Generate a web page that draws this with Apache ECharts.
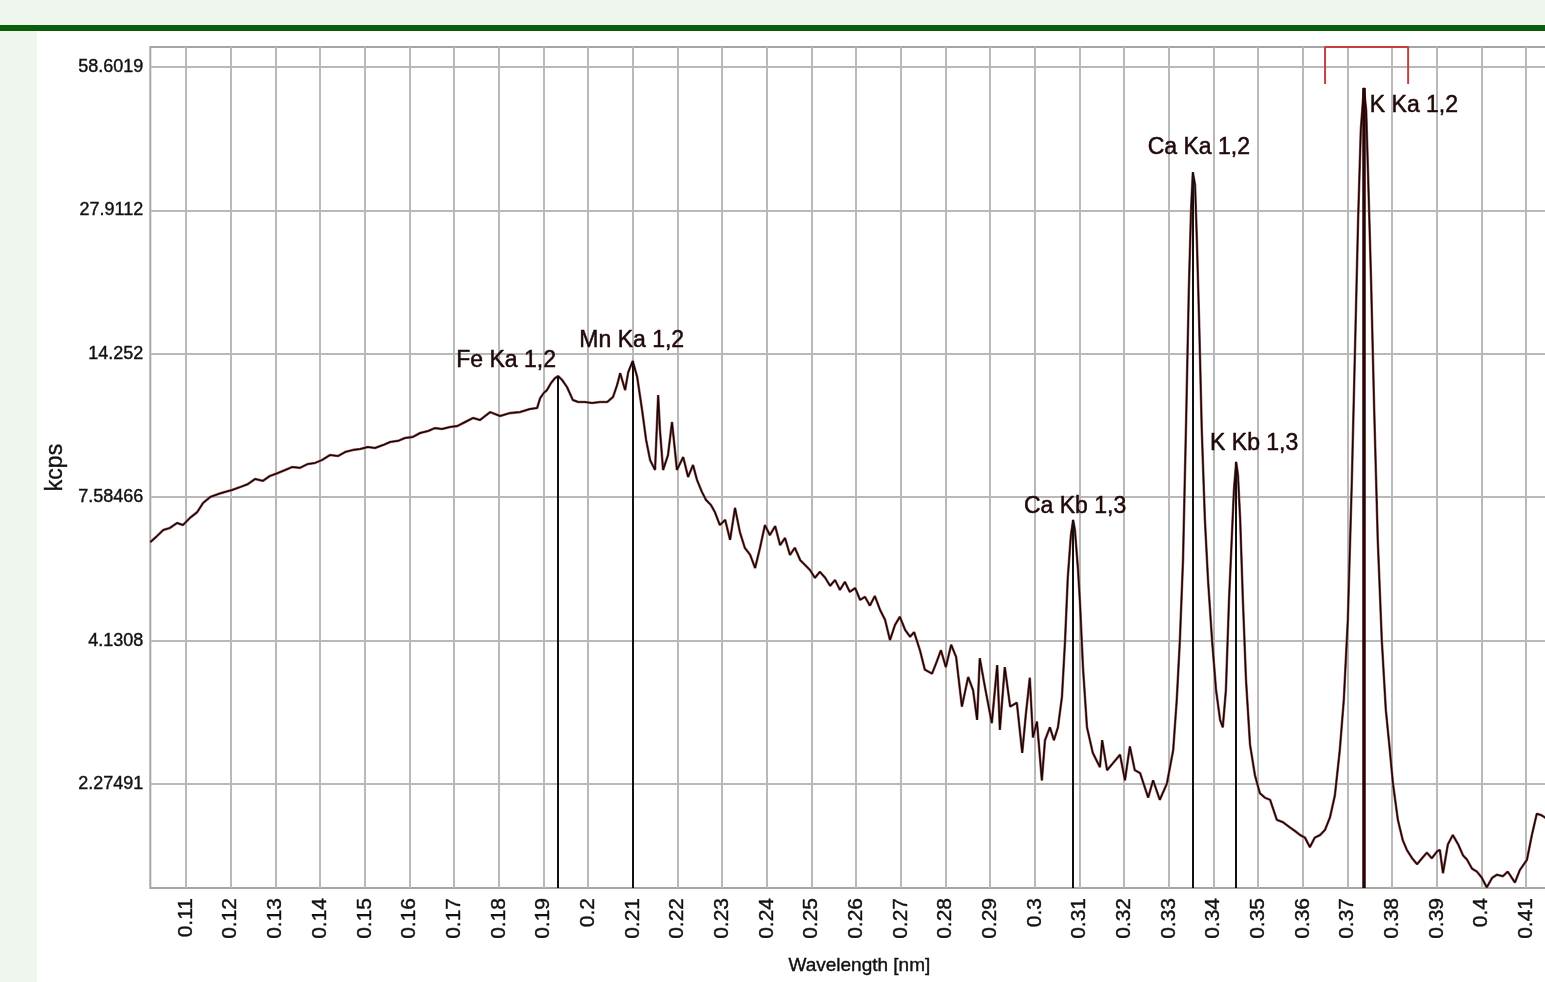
<!DOCTYPE html>
<html><head><meta charset="utf-8">
<script src="https://cdn.jsdelivr.net/npm/echarts@6/dist/echarts.min.js"></script>
<style>
html,body{margin:0;padding:0;width:1545px;height:982px;overflow:hidden;background:#eef6ee;}
#bar{position:absolute;left:0;top:25px;width:1545px;height:6px;background:#0b5c0b;}
#panel{position:absolute;left:37px;top:31px;width:1508px;height:951px;background:#fff;}
#chart{position:absolute;left:0;top:0;width:1560px;height:982px;}
</style></head><body>
<div id="bar"></div><div id="panel"></div><div id="chart"></div>
<script>
// ---- data ----
const xTickLabels = ['0.11','0.12','0.13','0.14','0.15','0.16','0.17','0.18','0.19','0.2','0.21','0.22','0.23','0.24','0.25','0.26','0.27','0.28','0.29','0.3','0.31','0.32','0.33','0.34','0.35','0.36','0.37','0.38','0.39','0.4','0.41'];
const yTickLabels = ['2.27491','4.1308','7.58466','14.252','27.9112','58.6019'];
const xRange = [0.102, 0.415];
const yRangeKcps = [1.476, 65.0];

const wavelength = [
0.1020,0.1033,0.1049,0.1064,0.1080,0.1093,0.1109,0.1125,0.1138,0.1154,0.1172,0.1187,0.1203,0.1221,0.1239,0.1255,0.1272,0.1288,0.1306,0.1322,
0.1337,0.1355,0.1373,0.1389,0.1404,0.1422,0.1440,0.1456,0.1474,0.1490,0.1507,0.1523,0.1541,0.1557,0.1575,0.1590,0.1608,0.1624,0.1642,0.1657,
0.1673,0.1691,0.1707,0.1725,0.1743,0.1758,0.1781,0.1803,0.1825,0.1848,0.1870,0.1886,0.1893,0.1901,0.1908,0.1917,0.1926,0.1933,0.1942,0.1953,
0.1966,0.1978,0.1993,0.2009,0.2027,0.2043,0.2056,0.2065,0.2072,0.2083,0.2090,0.2100,0.2110,0.2121,0.2130,0.2139,0.2150,0.2157,0.2161,0.2168,
0.2179,0.2188,0.2199,0.2213,0.2224,0.2235,0.2244,0.2255,0.2264,0.2275,0.2284,0.2295,0.2307,0.2318,0.2329,0.2340,0.2351,0.2363,0.2374,0.2385,
0.2396,0.2407,0.2419,0.2430,0.2441,0.2452,0.2463,0.2475,0.2486,0.2497,0.2508,0.2519,0.2531,0.2542,0.2553,0.2564,0.2575,0.2586,0.2598,0.2609,
0.2620,0.2631,0.2642,0.2654,0.2665,0.2676,0.2687,0.2698,0.2710,0.2721,0.2730,0.2743,0.2754,0.2770,0.2781,0.2790,0.2801,0.2813,0.2824,0.2837,
0.2851,0.2862,0.2871,0.2877,0.2889,0.2904,0.2916,0.2922,0.2933,0.2945,0.2960,0.2972,0.2980,0.2989,0.2996,0.3005,0.3016,0.3023,0.3034,0.3043,
0.3052,0.3061,0.3068,0.3074,0.3081,0.3086,0.3090,0.3097,0.3101,0.3108,0.3117,0.3130,0.3146,0.3151,0.3162,0.3175,0.3191,0.3202,0.3213,0.3224,
0.3236,0.3254,0.3265,0.3280,0.3296,0.3310,0.3318,0.3325,0.3332,0.3339,0.3345,0.3350,0.3354,0.3359,0.3363,0.3368,0.3374,0.3381,0.3388,0.3397,
0.3406,0.3415,0.3421,0.3428,0.3435,0.3442,0.3446,0.3451,0.3455,0.3460,0.3466,0.3473,0.3482,0.3493,0.3504,0.3515,0.3527,0.3542,0.3556,0.3571,
0.3583,0.3594,0.3605,0.3616,0.3627,0.3639,0.3650,0.3661,0.3672,0.3683,0.3692,0.3701,0.3710,0.3717,0.3724,0.3730,0.3737,0.3742,0.3746,0.3753,
0.3760,0.3768,0.3777,0.3786,0.3795,0.3802,0.3813,0.3824,0.3833,0.3845,0.3856,0.3867,0.3878,0.3889,0.3901,0.3907,0.3914,0.3925,0.3936,0.3948,
0.3959,0.3968,0.3979,0.3990,0.4001,0.4012,0.4024,0.4035,0.4048,0.4059,0.4075,0.4086,0.4102,0.4113,0.4124,0.4133,0.4142,0.4154];

const kcps = [
6.27,6.41,6.60,6.66,6.80,6.74,6.95,7.12,7.40,7.59,7.69,7.76,7.83,7.93,8.04,8.22,8.15,8.33,8.44,8.55,
8.66,8.63,8.78,8.82,8.93,9.13,9.09,9.25,9.34,9.38,9.46,9.42,9.54,9.67,9.72,9.84,9.89,10.06,10.15,10.28,
10.24,10.33,10.37,10.56,10.75,10.65,11.03,10.84,10.98,11.03,11.18,11.23,11.74,12.0,12.15,12.53,12.81,12.92,12.70,12.31,
11.63,11.53,11.53,11.48,11.53,11.53,11.79,12.42,13.09,12.15,13.15,13.81,12.87,11.13,9.76,8.93,8.55,11.89,10.19,8.55,
9.13,10.56,8.55,9.05,8.29,8.74,8.18,7.76,7.50,7.34,7.12,6.74,6.89,6.33,7.25,6.54,6.12,5.94,5.62,6.12,
6.74,6.46,6.71,6.19,6.38,5.94,6.12,5.81,5.69,5.57,5.39,5.53,5.39,5.21,5.34,5.12,5.30,5.08,5.16,4.91,
4.97,4.79,4.99,4.70,4.51,4.14,4.41,4.57,4.32,4.20,4.28,3.97,3.66,3.60,3.79,3.97,3.70,4.06,3.86,3.14,
3.55,3.36,2.97,3.84,3.39,2.93,3.73,2.85,3.70,3.14,3.19,2.59,3.03,3.54,2.76,2.95,2.31,2.73,2.88,2.73,
2.88,3.27,4.14,5.39,6.46,6.89,6.60,5.57,4.91,3.70,2.88,2.59,2.44,2.73,2.41,2.48,2.57,2.31,2.66,2.41,
2.38,2.15,2.31,2.13,2.28,2.62,3.23,4.14,5.81,10.65,19.22,27.97,34.0,31.8,24.3,16.7,10.19,6.89,5.34,4.14,
3.36,2.97,2.88,3.36,4.91,6.60,7.83,8.86,8.36,6.89,4.91,3.51,2.68,2.36,2.19,2.15,2.13,1.96,1.94,1.90,
1.87,1.84,1.82,1.75,1.82,1.84,1.88,1.98,2.17,2.62,3.23,4.51,8.18,14.51,26.68,42.3,52.6,46.9,34.4,20.1,
11.13,6.33,4.14,3.10,2.62,2.28,1.96,1.80,1.73,1.67,1.63,1.67,1.71,1.67,1.72,1.73,1.57,1.77,1.84,1.77,
1.69,1.66,1.60,1.58,1.54,1.48,1.54,1.56,1.55,1.58,1.51,1.59,1.66,1.84,2.01,2.00,1.98,1.94];

const peakNames = ['Fe Ka 1,2','Mn Ka 1,2','Ca Kb 1,3','Ca Ka 1,2','K Kb 1,3','K Ka 1,2'];
const peakWavelength = [0.1933, 0.2100, 0.3086, 0.3354, 0.3451, 0.3737];
const peakKcps = [12.92, 13.81, 6.89, 34.0, 8.86, 52.6];

const roiWavelength = [0.3650, 0.3836];
const roiLegKcps = 53.7;

// ---- layout / style (not data) ----
const peakLabelOffsets = [[-52,-15],[-1,-20],[2,-13],[6,-25],[18,-18],[50,18]];
const NARROW = "'Liberation Sans Narrow','Arial Narrow','Liberation Sans',Arial,sans-serif";
const REG = "'Liberation Sans',Arial,sans-serif";

// ---- axis transform (the reference's y scale: piecewise log between its tick values) ----
const yTickValues = yTickLabels.map(Number);
const lnT = yTickValues.map(Math.log);
function toAxis(v) {
  const L = Math.log(v), n = lnT.length;
  if (L <= lnT[0]) return (L - lnT[0]) / (lnT[1] - lnT[0]);
  for (let i = 0; i < n - 1; i++) {
    if (L <= lnT[i + 1]) return i + (L - lnT[i]) / (lnT[i + 1] - lnT[i]);
  }
  return (n - 1) + (L - lnT[n - 1]) / (lnT[n - 1] - lnT[n - 2]);
}
const uMin = toAxis(yRangeKcps[0]), uMax = toAxis(yRangeKcps[1]);
const yTickPos = yTickValues.map((_, i) => i);
const xTickValues = xTickLabels.map(Number);

const spectrum = wavelength.map((w, i) => [w, toAxis(kcps[i])]);
const peakPoints = peakWavelength.map((w, i) => ({
  value: [w, toAxis(peakKcps[i])],
  name: peakNames[i],
  label: { offset: peakLabelOffsets[i] }
}));
const peakLines = peakWavelength.map((w, i) => {
  const big = i === peakWavelength.length - 1;
  return [
    { coord: [w, toAxis(peakKcps[i])], lineStyle: { width: big ? 3.5 : 2, color: big ? '#2a0505' : '#111' } },
    { coord: [w, uMin] }
  ];
});
const roi = [
  [roiWavelength[0], toAxis(roiLegKcps)], [roiWavelength[0], uMax],
  [roiWavelength[1], uMax], [roiWavelength[1], toAxis(roiLegKcps)]
];

const chart = echarts.init(document.getElementById('chart'));
chart.setOption({
  animation: false,
  grid: { left: 150.3, top: 47, width: 1398.1, height: 841, show: true, borderColor: '#a6a6a6', borderWidth: 2,
          backgroundColor: 'transparent', containLabel: false, outerBoundsMode: 'none' },
  xAxis: {
    type: 'value', min: xRange[0], max: xRange[1],
    axisLine: { show: false },
    axisTick: { show: false, customValues: xTickValues },
    axisLabel: {
      customValues: xTickValues, rotate: 90, margin: 10, fontSize: 21, color: '#111', fontFamily: REG,
      textBorderColor: '#111', textBorderWidth: 0.4,
      formatter: v => { const k = xTickValues.findIndex(t => Math.abs(t - v) < 1e-9); return k >= 0 ? xTickLabels[k] : ''; }
    },
    splitLine: { show: true, lineStyle: { color: '#b9b9b9', width: 2 } },
    name: 'Wavelength [nm]', nameLocation: 'middle', nameGap: 68,
    nameTextStyle: { fontSize: 19, color: '#111', fontFamily: NARROW, padding: [0, 0, 0, 20],
                     textBorderColor: '#111', textBorderWidth: 0.4 }
  },
  yAxis: {
    type: 'value', min: uMin, max: uMax,
    axisLine: { show: false },
    axisTick: { show: false, customValues: yTickPos },
    axisLabel: {
      customValues: yTickPos, margin: 7, fontSize: 18, color: '#111', fontFamily: NARROW,
      textBorderColor: '#111', textBorderWidth: 0.4,
      formatter: v => yTickLabels[Math.round(v)]
    },
    splitLine: { show: true, lineStyle: { color: '#b9b9b9', width: 2 } },
    name: 'kcps', nameLocation: 'middle', nameRotate: 90, nameGap: 80,
    nameTextStyle: { fontSize: 23, color: '#111', fontFamily: REG, textBorderColor: '#111', textBorderWidth: 0.4 }
  },
  series: [
    { type: 'line', data: spectrum, symbol: 'none', lineStyle: { color: '#ad6262', width: 2.6 }, z: 2 },
    { type: 'line', data: spectrum, symbol: 'none', lineStyle: { color: '#160707', width: 1.5 }, z: 3 },
    {
      type: 'scatter', data: peakPoints, symbolSize: 0, itemStyle: { color: '#1e0909', opacity: 1 }, z: 5,
      label: { show: true, position: 'inside', formatter: p => p.name, fontSize: 23, color: '#1e0909', opacity: 1,
               fontFamily: NARROW, textBorderColor: '#2a0c0c', textBorderWidth: 0.5 },
      markLine: { silent: true, symbol: ['none', 'none'], label: { show: false },
                  lineStyle: { type: 'solid', color: '#111', width: 2 }, data: peakLines }
    },
    { type: 'line', data: roi, symbol: 'none', clip: false, lineStyle: { color: '#c24040', width: 2 }, z: 4 }
  ]
});
</script></body></html>
